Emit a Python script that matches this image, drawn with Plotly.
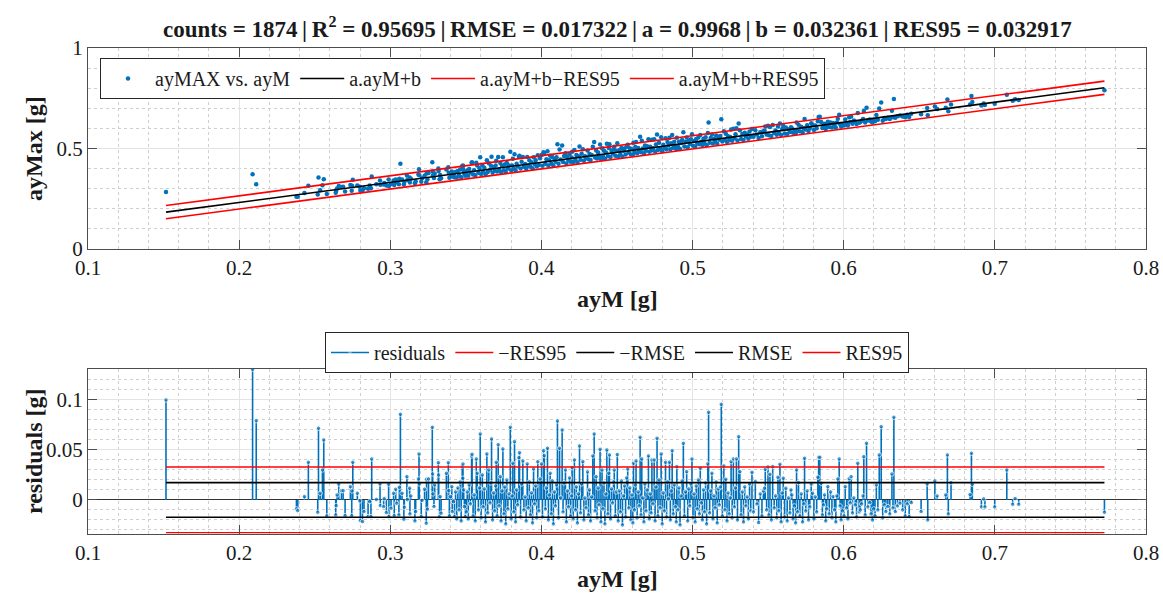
import plotly.graph_objects as go

# ---- fit statistics (from the chart title) ----
counts = 1874
R2 = 0.95695
RMSE = 0.017322
a = 0.9968
b = 0.032361
RES95 = 0.032917

# ---- data: ayM [g] and residuals [g] ----
ayM = [
    0.1516, 0.2089, 0.2113, 0.2379, 0.2388, 0.2432, 0.2458, 0.2520, 0.2525, 0.2536,
    0.2551, 0.2560, 0.2580, 0.2639, 0.2642, 0.2648, 0.2659, 0.2677, 0.2688, 0.2701,
    0.2736, 0.2745, 0.2747, 0.2752, 0.2782, 0.2798, 0.2802, 0.2816, 0.2826, 0.2853,
    0.2864, 0.2872, 0.2877, 0.2908, 0.2932, 0.2934, 0.2956, 0.2960, 0.2974, 0.2989,
    0.2991, 0.3005, 0.3022, 0.3026, 0.3036, 0.3042, 0.3057, 0.3060, 0.3067, 0.3078,
    0.3090, 0.3093, 0.3110, 0.3113, 0.3128, 0.3130, 0.3136, 0.3163, 0.3168, 0.3186,
    0.3190, 0.3192, 0.3205, 0.3210, 0.3227, 0.3238, 0.3240, 0.3246, 0.3253, 0.3278,
    0.3280, 0.3282, 0.3289, 0.3294, 0.3318, 0.3320, 0.3326, 0.3330, 0.3336, 0.3371,
    0.3384, 0.3387, 0.3391, 0.3398, 0.3407, 0.3410, 0.3418, 0.3425, 0.3432, 0.3440,
    0.3447, 0.3455, 0.3462, 0.3469, 0.3476, 0.3480, 0.3481, 0.3486, 0.3490, 0.3496,
    0.3503, 0.3509, 0.3516, 0.3522, 0.3530, 0.3538, 0.3541, 0.3548, 0.3555, 0.3562, 0.3569, 0.3575, 0.3583, 0.3590, 0.3595,
    0.3601, 0.3609, 0.3615, 0.3622, 0.3630, 0.3639, 0.3645, 0.3652, 0.3660, 0.3666, 0.3670, 0.3677, 0.3684, 0.3691, 0.3697,
    0.3701, 0.3707, 0.3714, 0.3720, 0.3728, 0.3733, 0.3739, 0.3745, 0.3752, 0.3758, 0.3764, 0.3771, 0.3778, 0.3786, 0.3794,
    0.3800, 0.3806, 0.3811, 0.3817, 0.3822, 0.3829, 0.3836, 0.3843, 0.3851, 0.3855, 0.3862, 0.3869, 0.3877, 0.3884, 0.3892,
    0.3899, 0.3906, 0.3913, 0.3920, 0.3927, 0.3934, 0.3941, 0.3948, 0.3955, 0.3962, 0.3969, 0.3976, 0.3983, 0.3991,
    0.4001, 0.4007, 0.4014, 0.4019, 0.4026, 0.4033, 0.4040, 0.4046, 0.4052, 0.4058, 0.4065, 0.4072, 0.4079, 0.4086, 0.4093,
    0.4100, 0.4106, 0.4113, 0.4120, 0.4127, 0.4137, 0.4143, 0.4150, 0.4159, 0.4165, 0.4172, 0.4179, 0.4186, 0.4193,
    0.4200, 0.4203, 0.4210, 0.4218, 0.4225, 0.4231, 0.4238, 0.4245, 0.4252, 0.4259, 0.4266, 0.4274, 0.4281, 0.4288, 0.4295,
    0.4305, 0.4311, 0.4318, 0.4325, 0.4332, 0.4340, 0.4349, 0.4355, 0.4362, 0.4368, 0.4375, 0.4381, 0.4388, 0.4394,
    0.4401, 0.4407, 0.4414, 0.4420, 0.4427, 0.4433, 0.4440, 0.4446, 0.4450, 0.4457, 0.4464, 0.4471, 0.4477, 0.4482, 0.4489, 0.4495,
    0.4502, 0.4508, 0.4515, 0.4522, 0.4529, 0.4536, 0.4543, 0.4550, 0.4557, 0.4564, 0.4571, 0.4578, 0.4585, 0.4592,
    0.4599, 0.4605, 0.4609, 0.4616, 0.4621, 0.4626, 0.4633, 0.4640, 0.4647, 0.4653, 0.4659, 0.4664, 0.4671, 0.4678, 0.4685, 0.4692,
    0.4699, 0.4708, 0.4714, 0.4720, 0.4726, 0.4731, 0.4738, 0.4746, 0.4752, 0.4758, 0.4765, 0.4771, 0.4778, 0.4785, 0.4792,
    0.4799, 0.4806, 0.4813, 0.4821, 0.4828, 0.4834, 0.4840, 0.4847, 0.4853, 0.4859, 0.4865, 0.4872, 0.4879, 0.4886, 0.4892, 0.4896,
    0.4903, 0.4910, 0.4917, 0.4924, 0.4931, 0.4939, 0.4946, 0.4953, 0.4961, 0.4968, 0.4975, 0.4982, 0.4989, 0.4996,
    0.5003, 0.5010, 0.5017, 0.5024, 0.5031, 0.5038, 0.5045, 0.5051, 0.5058, 0.5065, 0.5072, 0.5079, 0.5086, 0.5093, 0.5101, 0.5106,
    0.5113, 0.5120, 0.5128, 0.5135, 0.5142, 0.5149, 0.5156, 0.5163, 0.5170, 0.5177, 0.5184, 0.5190, 0.5197,
    0.5207, 0.5214, 0.5220, 0.5228, 0.5235, 0.5242, 0.5249, 0.5255, 0.5262, 0.5270, 0.5277, 0.5284, 0.5290, 0.5297,
    0.5305, 0.5313, 0.5321, 0.5329, 0.5337, 0.5345, 0.5353, 0.5361, 0.5369, 0.5377, 0.5385, 0.5393,
    0.5403, 0.5415, 0.5426, 0.5437, 0.5448, 0.5459, 0.5468, 0.5476, 0.5481, 0.5490, 0.5499,
    0.5505, 0.5512, 0.5521, 0.5530, 0.5540, 0.5549, 0.5557, 0.5565, 0.5571, 0.5578, 0.5586, 0.5593,
    0.5600, 0.5609, 0.5617, 0.5626, 0.5635, 0.5644, 0.5651, 0.5657, 0.5665, 0.5674, 0.5682, 0.5688, 0.5695,
    0.5701, 0.5710, 0.5719, 0.5728, 0.5736, 0.5741, 0.5749, 0.5758, 0.5767, 0.5776, 0.5785, 0.5794,
    0.5803, 0.5812, 0.5821, 0.5829, 0.5834, 0.5842, 0.5851, 0.5859, 0.5866, 0.5873, 0.5881, 0.5888, 0.5895,
    0.5904, 0.5913, 0.5922, 0.5930, 0.5939, 0.5948, 0.5955, 0.5961, 0.5970, 0.5976, 0.5983, 0.5991,
    0.6002, 0.6010, 0.6019, 0.6028, 0.6036, 0.6043, 0.6049, 0.6058, 0.6067, 0.6076, 0.6085, 0.6093,
    0.6102, 0.6110, 0.6119, 0.6128, 0.6133, 0.6142, 0.6151, 0.6160, 0.6172, 0.6181, 0.6190, 0.6199,
    0.6207, 0.6216, 0.6226, 0.6235, 0.6248, 0.6258, 0.6268, 0.6279, 0.6292,
    0.6305, 0.6319, 0.6326, 0.6332, 0.6341, 0.6356, 0.6372, 0.6390, 0.6407, 0.6420, 0.6433, 0.6447,
    0.6512, 0.6552, 0.6556, 0.6603, 0.6618, 0.6675, 0.6686, 0.6692, 0.6710, 0.6836,
    0.6845, 0.6851, 0.6911, 0.6926, 0.6934, 0.6999, 0.7079, 0.7118, 0.7134, 0.7158, 0.7725,
]

residuals = [
    0.100, 0.1307, 0.0793, -0.009, -0.0107, 0.0033, 0.0377, -0.0123, 0.0717, 0.0067,
    0.030, 0.060, -0.016, -0.015, -0.0057, 0.005, 0.016, 0.0093, 0.0093, -0.0157,
    0.0133, -0.0157, 0.009, 0.0377, 0.0067, -0.001, -0.0207, -0.0217, -0.0117, -0.0167,
    -0.0017, -0.0167, 0.041, 0.0005, 0.016, -0.0057, -0.0067, 0.0013, -0.0127, 0.0157,
    -0.0167, -0.0083, 0.0067, -0.0157, 0.0107, -0.0033, -0.015, 0.0127, 0.0857, 0.0067,
    -0.0193, -0.0073, 0.0233, 0.0004, 0.0117, -0.014, 0.004, -0.021, -0.0117, 0.021,
    0.046, 0.016, -0.0167, -0.0005, 0.0107, -0.0233, 0.0207, -0.0093, 0.021, 0.0727,
    0.026, 0.006, -0.0067, 0.015, 0.0373, 0.025, -0.0167, 0.0033, -0.0133, 0.0267,
    0.0373, 0.0093, -0.016, 0.0033, 0.0133, -0.0117, -0.0017, -0.0167, 0.008, -0.019,
    0.012, -0.010, 0.018, -0.021, 0.034, 0.0217, 0.036, 0.010, -0.0067, -0.0167,
    -0.012, 0.008, -0.019, 0.015, -0.004, 0.044, 0.0457, -0.016, 0.005, -0.021, 0.041, 0.0267, -0.010, 0.012, 0.066,
    -0.018, 0.025, -0.007, 0.011, -0.022, 0.046, -0.013, 0.030, -0.003, 0.017, 0.061, -0.020, 0.007, -0.011, 0.014,
    0.0377, -0.016, 0.0553, -0.006, 0.0233, -0.021, 0.009, 0.051, -0.014, 0.013, -0.024, 0.020, -0.009, 0.006, 0.0727,
    -0.019, 0.004, 0.0367, -0.012, 0.0583, -0.022, 0.010, -0.005, 0.0423, 0.0473, -0.017, 0.016, 0.039, -0.010, 0.003,
    -0.021, 0.036, -0.008, 0.018, -0.015, 0.007, -0.023, 0.031, -0.004, 0.014, -0.018, 0.0383, -0.011, 0.021,
    0.036, -0.017, 0.0493, 0.0443, -0.009, 0.012, 0.0517, -0.020, 0.005, 0.0267, -0.014, 0.019, -0.024, 0.008, -0.006,
    0.015, 0.079, -0.018, 0.0517, 0.002, 0.070, -0.012, 0.017, 0.030, -0.022, 0.009, -0.007, 0.022, -0.016,
    0.004, 0.0323, -0.019, 0.040, -0.010, 0.013, -0.023, 0.006, 0.054, -0.013, 0.016, 0.0383, -0.020, 0.002, -0.008,
    0.028, -0.015, 0.010, -0.021, 0.003, 0.044, 0.066, -0.011, 0.0233, -0.018, 0.012, -0.005, 0.0507, -0.022,
    0.030, -0.009, 0.017, -0.024, 0.006, 0.050, -0.014, 0.0267, 0.045, -0.019, 0.011, -0.003, 0.018, 0.030, -0.016, 0.008,
    0.0455, -0.021, 0.009, -0.012, 0.019, -0.025, 0.004, 0.014, -0.017, 0.022, 0.031, -0.008, 0.012, -0.020,
    0.005, -0.023, 0.0367, -0.010, 0.015, 0.039, -0.018, 0.008, -0.006, 0.0627, -0.015, 0.041, 0.002, -0.022, 0.016, -0.011,
    0.010, 0.044, -0.019, 0.006, -0.013, 0.040, -0.004, 0.040, -0.021, 0.013, 0.0617, -0.016, 0.020, -0.008, 0.046,
    -0.024, 0.007, -0.011, 0.0377, -0.017, 0.018, 0.001, 0.0377, -0.020, 0.009, 0.0493, -0.014, 0.015, -0.007, -0.022, 0.0333,
    -0.010, 0.012, -0.025, 0.004, 0.019, 0.0567, -0.016, 0.008, 0.0283, -0.021, 0.011, -0.006, 0.016, 0.041,
    -0.018, 0.006, -0.022, 0.014, -0.009, 0.020, -0.014, 0.0317, -0.003, -0.020, 0.010, -0.012, 0.017, -0.024, 0.036, 0.0877,
    -0.013, 0.009, 0.0267, -0.019, 0.004, -0.008, 0.018, -0.023, 0.011, -0.005, 0.013, 0.0957, -0.016,
    0.034, -0.010, 0.0207, -0.021, 0.007, -0.014, 0.002, 0.0383, -0.018, 0.041, -0.007, 0.012, 0.041, -0.020,
    0.0633, 0.0283, -0.015, 0.008, -0.022, 0.013, -0.006, 0.003, -0.019, 0.016, -0.011, 0.0277,
    -0.012, 0.0183, -0.004, -0.0227, 0.006, -0.016, 0.009, 0.0117, 0.0307, -0.010, 0.033,
    -0.015, 0.0257, -0.020, 0.0333, -0.008, 0.004, -0.018, 0.0227, -0.011, 0.0357, -0.022, 0.007,
    0.0217, -0.017, 0.0117, -0.021, 0.002, -0.013, 0.010, 0.005, -0.019, -0.006, -0.023, 0.030, -0.012,
    0.0173, -0.016, 0.006, -0.022, -0.004, 0.0417, -0.011, 0.009, -0.020, -0.007, 0.016, 0.0067,
    -0.019, 0.003, -0.012, 0.0227, 0.0427, 0.0427, 0.0167, -0.015, -0.005, 0.005, -0.021, -0.009, 0.0133,
    -0.014, 0.008, -0.018, 0.0033, -0.010, -0.022, 0.004, 0.021, 0.041, -0.006, -0.020, -0.011,
    -0.016, 0.0133, -0.008, -0.019, 0.0213, -0.003, 0.0233, -0.013, 0.002, -0.005, -0.017, 0.0367,
    -0.012, -0.010, -0.004, 0.004, 0.0433, -0.015, 0.0567, -0.007, -0.0027, -0.014, -0.020, -0.009,
    -0.016, 0.015, -0.010, 0.045, 0.0733, -0.018, -0.005, -0.0117, -0.0067,
    -0.014, 0.026, -0.008, 0.0827, -0.0117, -0.006, -0.0033, -0.010, -0.016, -0.004, -0.0167, -0.0027,
    -0.0117, 0.016, -0.020, 0.019, 0.004, 0.005, 0.045, -0.014, 0.0173, 0.0053,
    0.0467, 0.0157, -0.007, 0.001, -0.007, -0.007, 0.030, -0.0043, 0.0013, -0.0043, -0.0123,
]

assert len(ayM) == len(residuals), (len(ayM), len(residuals))

# measured ayMax = fitted value + residual
ayMax = [a * x + b + r for x, r in zip(ayM, residuals)]
fit_x = [min(ayM), max(ayM)]
fit_y = [a * x + b for x in fit_x]

# ---- styling ----
W, H = 1163, 596
FONT = "Liberation Serif, Times New Roman, serif"
TXT = "#1a1a1a"
BLUE = "#0072BD"
RED = "#FF0000"
AX = "#4d4d4d"
GRID = "#e3e3e3"
MINOR = "#cfcfcf"

fig = go.Figure()

# top panel
fig.add_trace(go.Scatter(x=ayM, y=ayMax, mode="markers", name="ayMAX vs. ayM",
                         marker=dict(color=BLUE, size=4.5), xaxis="x", yaxis="y", legend="legend"))
fig.add_trace(go.Scatter(x=fit_x, y=fit_y, mode="lines", name="a.ayM+b",
                         line=dict(color="black", width=1.6), xaxis="x", yaxis="y", legend="legend"))
fig.add_trace(go.Scatter(x=fit_x, y=[v - RES95 for v in fit_y], mode="lines", name="a.ayM+b\u2212RES95",
                         line=dict(color=RED, width=1.6), xaxis="x", yaxis="y", legend="legend"))
fig.add_trace(go.Scatter(x=fit_x, y=[v + RES95 for v in fit_y], mode="lines", name="a.ayM+b+RES95",
                         line=dict(color=RED, width=1.6), xaxis="x", yaxis="y", legend="legend"))

# bottom panel: stem plot of residuals
sx, sy, ss = [], [], []
for x, r in zip(ayM, residuals):
    sx += [x, x, None]
    sy += [0, r, None]
    ss += [0, 4.5, 0]
fig.add_trace(go.Scatter(x=sx, y=sy, mode="lines+markers", name="residuals",
                         line=dict(color=BLUE, width=1.6), marker=dict(color=BLUE, size=ss),
                         xaxis="x2", yaxis="y2", legend="legend2"))
for name, val, col in [("\u2212RES95", -RES95, RED), ("\u2212RMSE", -RMSE, "black"),
                       ("RMSE", RMSE, "black"), ("RES95", RES95, RED)]:
    fig.add_trace(go.Scatter(x=fit_x, y=[val, val], mode="lines", name=name,
                             line=dict(color=col, width=1.6), xaxis="x2", yaxis="y2", legend="legend2"))

tickfont = dict(family=FONT, size=21, color=TXT)

def xaxis_cfg(anchor):
    return dict(domain=[88 / W, 1146 / W], range=[0.1, 0.8], tick0=0.1, dtick=0.1,
                ticks="inside", ticklen=9, tickcolor=AX, showline=True, linecolor=AX, linewidth=1,
                mirror="ticks", showgrid=True, gridcolor=GRID, gridwidth=1, zeroline=False,
                minor=dict(dtick=0.02, tick0=0.1, showgrid=True, griddash="dot", gridcolor=MINOR, ticks=""),
                tickfont=tickfont, anchor=anchor, automargin=False)

fig.update_layout(
    width=W, height=H, margin=dict(l=0, r=0, t=0, b=0, autoexpand=False),
    paper_bgcolor="white", plot_bgcolor="white",
    xaxis=xaxis_cfg("y"),
    yaxis=dict(domain=[1 - 249 / H, 1 - 48 / H], range=[0, 1], tick0=0, dtick=0.5,
               ticks="inside", ticklen=9, tickcolor=AX, showline=True, linecolor=AX, linewidth=1,
               mirror="ticks", showgrid=True, gridcolor=GRID, zeroline=False,
               minor=dict(dtick=0.1, showgrid=True, griddash="dot", gridcolor=MINOR, ticks=""),
               tickfont=tickfont, anchor="x", automargin=False),
    xaxis2=xaxis_cfg("y2"),
    yaxis2=dict(domain=[1 - 533.5 / H, 1 - 369 / H], range=[-0.0336, 0.131], tick0=0, dtick=0.05,
                ticks="inside", ticklen=9, tickcolor=AX, showline=True, linecolor=AX, linewidth=1,
                mirror="ticks", showgrid=True, gridcolor=GRID, zeroline=True, zerolinecolor="#333333",
                zerolinewidth=1,
                minor=dict(dtick=0.01, tick0=0, showgrid=True, griddash="dot", gridcolor=MINOR, ticks=""),
                tickfont=tickfont, anchor="x2", automargin=False),
    legend=dict(orientation="h", x=100 / W, y=1 - 58 / H, xanchor="left", yanchor="top",
                bgcolor="white", bordercolor="#262626", borderwidth=1, itemwidth=44,
                font=dict(family=FONT, size=20, color=TXT)),
    legend2=dict(orientation="h", x=617 / W, y=1 - 332 / H, xanchor="center", yanchor="top",
                 bgcolor="white", bordercolor="#262626", borderwidth=1, itemwidth=38,
                 font=dict(family=FONT, size=20, color=TXT)),
    showlegend=True,
)

title = (f"<b>counts = {counts}\u2009|\u2009R<sup>2</sup> = {R2}\u2009|\u2009RMSE = {RMSE}"
         f"\u2009|\u2009a = {a}\u2009|\u2009b = {b}\u2009|\u2009RES95 = {RES95}</b>")
annos = [
    dict(text=title, x=617 / W, y=1 - 27 / H, font=dict(family=FONT, size=23, color=TXT)),
    dict(text="<b>ayMax [g]</b>", x=34 / W, y=1 - 149 / H, textangle=-90, font=dict(family=FONT, size=24, color=TXT)),
    dict(text="<b>ayM [g]</b>", x=617 / W, y=1 - 299 / H, font=dict(family=FONT, size=24, color=TXT)),
    dict(text="<b>residuals [g]</b>", x=34 / W, y=1 - 451 / H, textangle=-90, font=dict(family=FONT, size=24, color=TXT)),
    dict(text="<b>ayM [g]</b>", x=617 / W, y=1 - 579 / H, font=dict(family=FONT, size=24, color=TXT)),
]
for an in annos:
    an.update(xref="paper", yref="paper", showarrow=False, xanchor="center", yanchor="middle")
fig.update_layout(annotations=annos)

# remove the default page margin so the figure sits at the window origin
fig.write_html("out.html", config={"displayModeBar": False},
               post_script="document.documentElement.style.margin='0';"
                           "document.body.style.margin='0';document.body.style.overflow='hidden';")
